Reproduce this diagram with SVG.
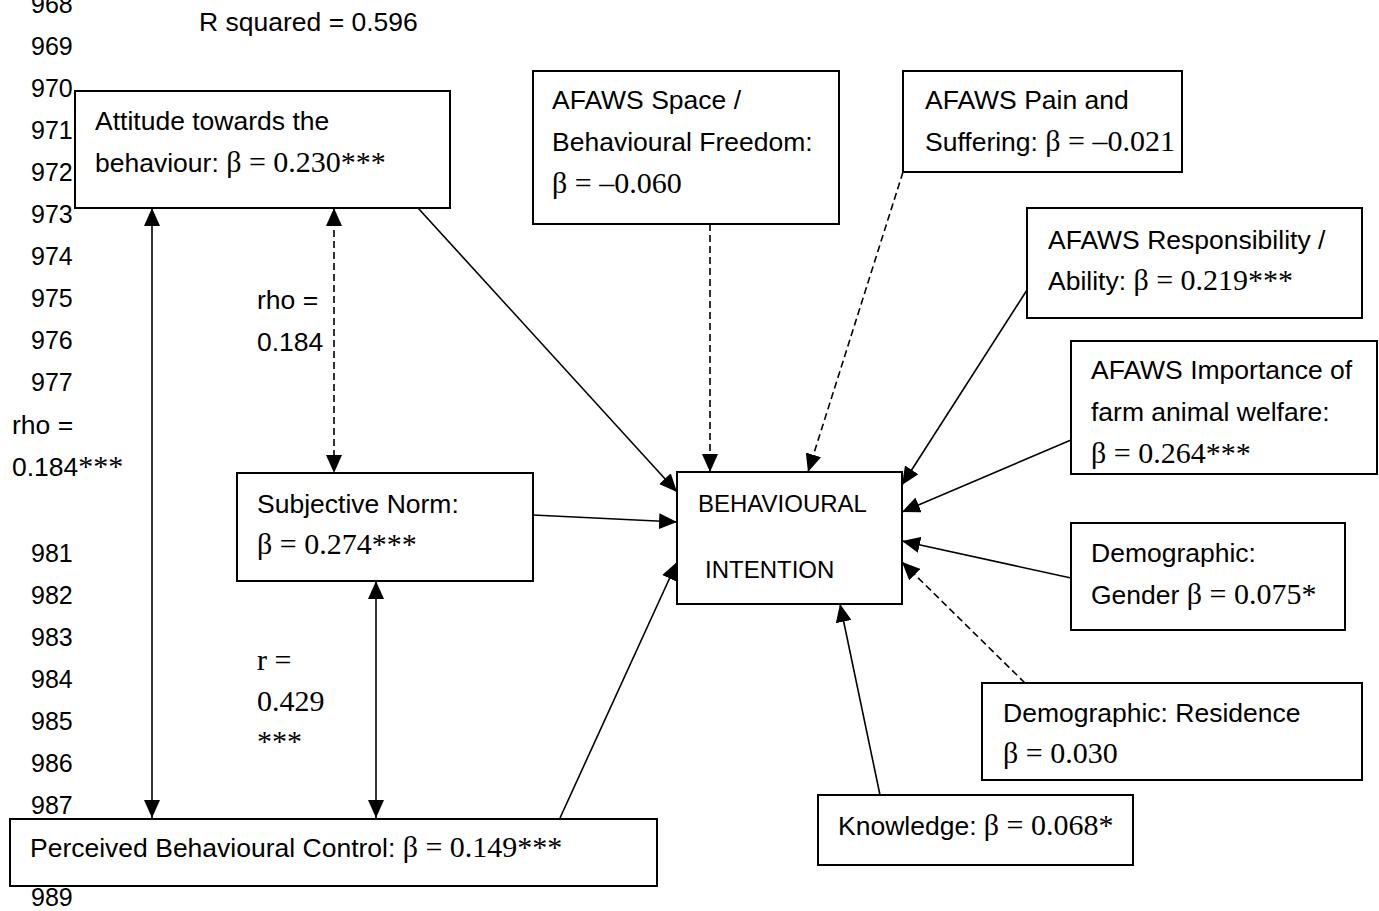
<svg xmlns="http://www.w3.org/2000/svg" width="1379" height="911" viewBox="0 0 1379 911">
<style>
.s{font-family:"Liberation Sans",Arial,sans-serif;font-size:26.5px;fill:#000}
.n{font-size:25px}
.bi{font-size:24px}
.g{font-family:"Liberation Serif","Times New Roman",serif;font-size:30px}
.box{fill:#fff;stroke:#000;stroke-width:2}
.ln{fill:none;stroke:#000;stroke-width:1.6}
.d{stroke-dasharray:7 4}
.a{marker-end:url(#ah)}
.b{marker-start:url(#ah);marker-end:url(#ah)}
</style>
<defs>
<marker id="ah" markerUnits="userSpaceOnUse" markerWidth="18" markerHeight="16" refX="18" refY="8" orient="auto-start-reverse" viewBox="0 0 18 16">
<path d="M0,0 L18,8 L0,16 z" fill="#000"/>
</marker>
</defs>
<g id="line-numbers" class="s n">
<text x="31" y="13">968</text>
<text x="31" y="55">969</text>
<text x="31" y="97">970</text>
<text x="31" y="139">971</text>
<text x="31" y="181">972</text>
<text x="31" y="223">973</text>
<text x="31" y="265">974</text>
<text x="31" y="307">975</text>
<text x="31" y="349">976</text>
<text x="31" y="391">977</text>
<text x="31" y="562">981</text>
<text x="31" y="604">982</text>
<text x="31" y="646">983</text>
<text x="31" y="688">984</text>
<text x="31" y="730">985</text>
<text x="31" y="772">986</text>
<text x="31" y="814">987</text>
<text x="31" y="906">989</text>
</g>
<text id="r-squared" class="s" x="199" y="31">R squared = 0.596</text>
<g id="connectors">
<path class="ln b" d="M152,208 L152,818"/>
<path class="ln d b" d="M334,208 L334,473"/>
<path class="ln b" d="M376,581 L376,818"/>
<path class="ln a" d="M418,208 L677,492"/>
<path class="ln a" d="M533,515 L677,522"/>
<path class="ln a" d="M560,818 L677,562"/>
<path class="ln d a" d="M710,224 L710,472"/>
<path class="ln d a" d="M903,172 L808,472"/>
<path class="ln a" d="M1027,290 L902,485"/>
<path class="ln a" d="M1071,440 L902,512"/>
<path class="ln a" d="M1071,578 L902,541"/>
<path class="ln d a" d="M1025,683 L902,562"/>
<path class="ln a" d="M880,795 L840,604"/>
</g>
<g id="labels" class="s">
<text x="257" y="309">rho =</text>
<text x="257" y="351">0.184</text>
<text x="12" y="434">rho =</text>
<text x="12" y="476">0.184<tspan class="g">***</tspan></text>
<text class="g" x="257" y="670">r =</text>
<text class="g" x="257" y="711">0.429</text>
<text class="g" x="257" y="751">***</text>
</g>
<g id="attitude">
<rect class="box" x="75" y="91" width="375" height="117"/>
<text class="s" x="95" y="130">Attitude towards the</text>
<text class="s" x="95" y="172">behaviour: <tspan class="g">β = 0.230***</tspan></text>
</g>
<g id="subjective-norm">
<rect class="box" x="237" y="473" width="296" height="108"/>
<text class="s" x="257" y="513">Subjective Norm:</text>
<text class="s" x="257" y="554"><tspan class="g">β = 0.274***</tspan></text>
</g>
<g id="pbc">
<rect class="box" x="10" y="819" width="647" height="67"/>
<text class="s" x="30" y="857">Perceived Behavioural Control: <tspan class="g">β = 0.149***</tspan></text>
</g>
<g id="behavioural-intention">
<rect class="box" x="677" y="472" width="225" height="132"/>
<text class="s bi" x="698" y="512">BEHAVIOURAL</text>
<text class="s bi" x="705" y="578">INTENTION</text>
</g>
<g id="afaws-space">
<rect class="box" x="533" y="71" width="306" height="153"/>
<text class="s" x="552" y="109">AFAWS Space /</text>
<text class="s" x="552" y="151">Behavioural Freedom:</text>
<text class="s" x="552" y="193"><tspan class="g">β = –0.060</tspan></text>
</g>
<g id="afaws-pain">
<rect class="box" x="903" y="71" width="279" height="101"/>
<text class="s" x="925" y="109">AFAWS Pain and</text>
<text class="s" x="925" y="151">Suffering: <tspan class="g">β = –0.021</tspan></text>
</g>
<g id="afaws-responsibility">
<rect class="box" x="1027" y="208" width="335" height="110"/>
<text class="s" x="1048" y="249">AFAWS Responsibility /</text>
<text class="s" x="1048" y="290">Ability: <tspan class="g">β = 0.219***</tspan></text>
</g>
<g id="afaws-importance">
<rect class="box" x="1071" y="341" width="306" height="133"/>
<text class="s" x="1091" y="379">AFAWS Importance of</text>
<text class="s" x="1091" y="421">farm animal welfare:</text>
<text class="s" x="1091" y="463"><tspan class="g">β = 0.264***</tspan></text>
</g>
<g id="gender">
<rect class="box" x="1071" y="523" width="274" height="107"/>
<text class="s" x="1091" y="562">Demographic:</text>
<text class="s" x="1091" y="604">Gender <tspan class="g">β = 0.075*</tspan></text>
</g>
<g id="residence">
<rect class="box" x="982" y="683" width="380" height="97"/>
<text class="s" x="1003" y="722">Demographic: Residence</text>
<text class="s" x="1003" y="763"><tspan class="g">β = 0.030</tspan></text>
</g>
<g id="knowledge">
<rect class="box" x="818" y="795" width="315" height="70"/>
<text class="s" x="838" y="835">Knowledge: <tspan class="g">β = 0.068*</tspan></text>
</g>
</svg>
